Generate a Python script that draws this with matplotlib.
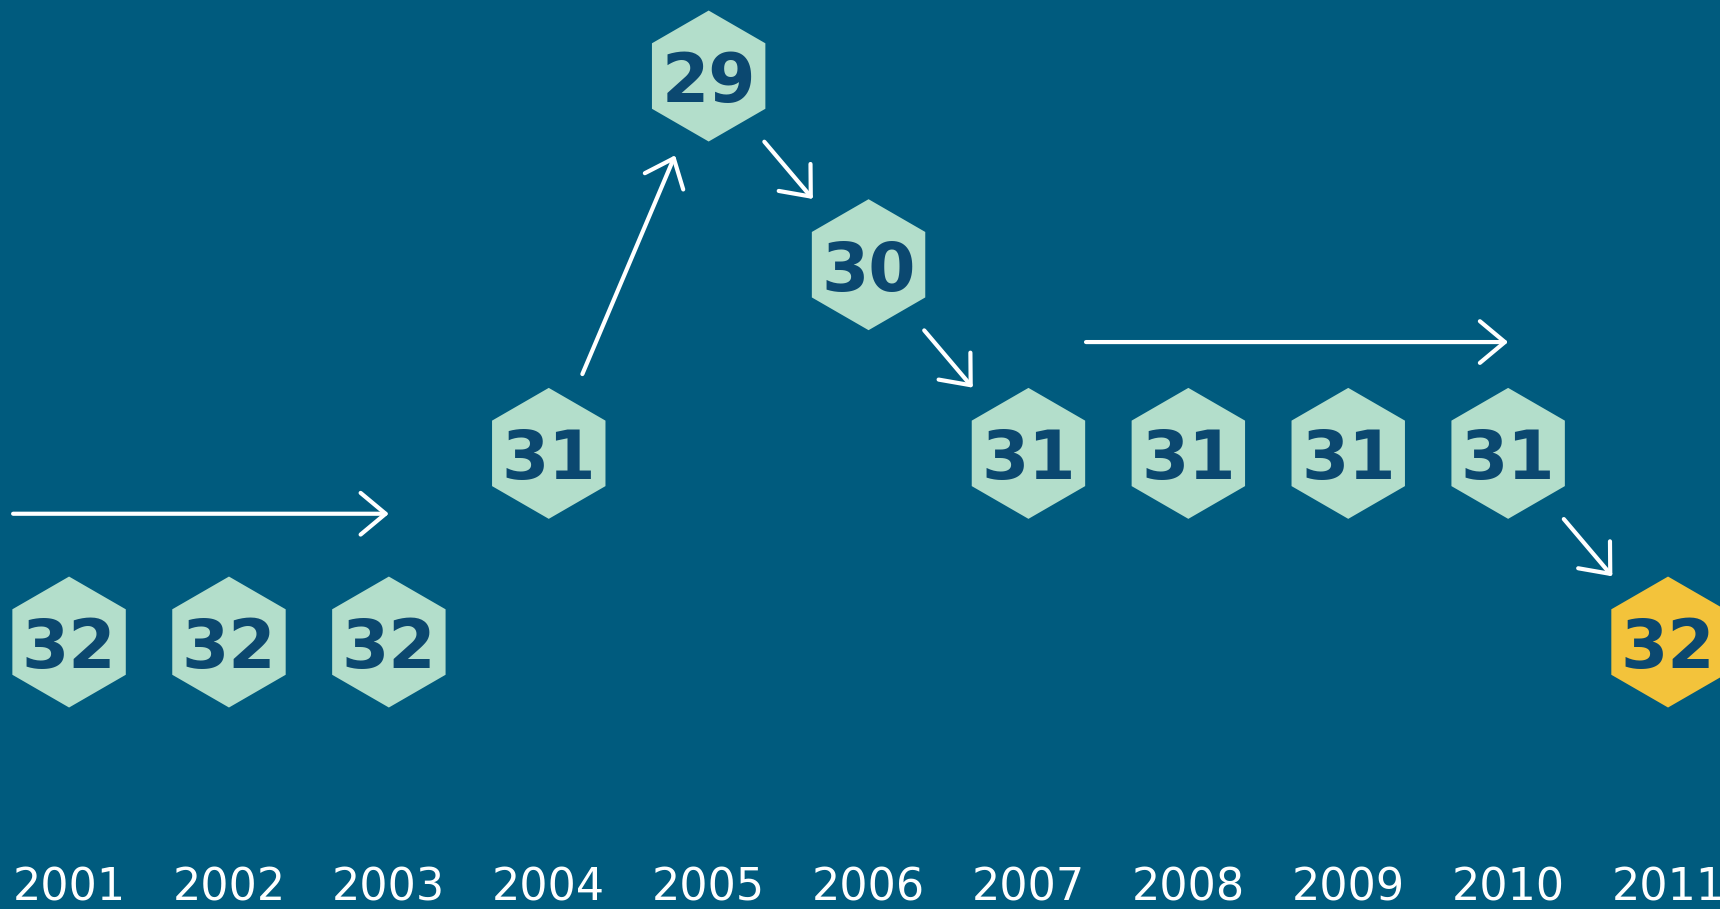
import matplotlib
matplotlib.use("Agg")
import matplotlib.pyplot as plt
import matplotlib.transforms as mtransforms

# ranking per year (lower number = higher up)
years = [2001, 2002, 2003, 2004, 2005, 2006, 2007, 2008, 2009, 2010, 2011]
ranks = [32, 32, 32, 31, 29, 30, 31, 31, 31, 31, 32]
highlight_year = 2011

# years where a diagonal "change" arrow starts
change_from = [2004, 2005, 2006, 2010]
# flat stretches marked with a horizontal arrow (first year, last year)
flat_runs = [(2001, 2003), (2007, 2010)]
flat_gap = [0.68, 0.59]   # how far above the row the arrow sits

bg = "#005b7e"
hex_col = "#b3decb"
hi_col = "#f3c33b"
num_col = "#0b4870"

fig = plt.figure(figsize=(17.2, 9.09), dpi=100)
fig.patch.set_facecolor(bg)
ax = fig.add_axes([0, 0, 1, 1])
ax.set_facecolor(bg)
ax.set_xlim(2000.568, 2011.325)
ax.set_ylim(33.415, 28.597)
ax.axis("off")

cols = [hi_col if y == highlight_year else hex_col for y in years]
ax.scatter(years, ranks, s=94.3**2, marker="h", c=cols, linewidths=0, zorder=2)

for y, r in zip(years, ranks):
    ax.text(y, r, str(r), ha="center", va="center_baseline", fontsize=49,
            fontweight="bold", color=num_col, family="DejaVu Sans", zorder=3)

# year labels along the bottom
trans = mtransforms.blended_transform_factory(ax.transData, ax.transAxes)
for y in years:
    ax.text(y, 0.0099, str(y), transform=trans, ha="center", va="baseline",
            fontsize=32, color="white", family="DejaVu Sans")

astyle = "->,head_length=0.9,head_width=0.75"

# diagonal arrows between changes
for i in range(len(years) - 1):
    if years[i] in change_from:
        ax.annotate("", xy=(years[i + 1], ranks[i + 1]), xytext=(years[i], ranks[i]),
                    arrowprops=dict(arrowstyle=astyle, color="white", lw=3,
                                    shrinkA=62, shrinkB=62, mutation_scale=20),
                    zorder=1)

# horizontal arrows over flat runs
for (a, b), gap in zip(flat_runs, flat_gap):
    i = years.index(a)
    x0 = a - 0.35 if i == 0 else a + 0.36
    yy = ranks[i] - gap
    ax.annotate("", xy=(b, yy), xytext=(x0, yy),
                arrowprops=dict(arrowstyle=astyle, color="white", lw=3,
                                shrinkA=0, shrinkB=0, mutation_scale=20),
                zorder=1)

fig.savefig("out.png", dpi=100, facecolor=bg)
